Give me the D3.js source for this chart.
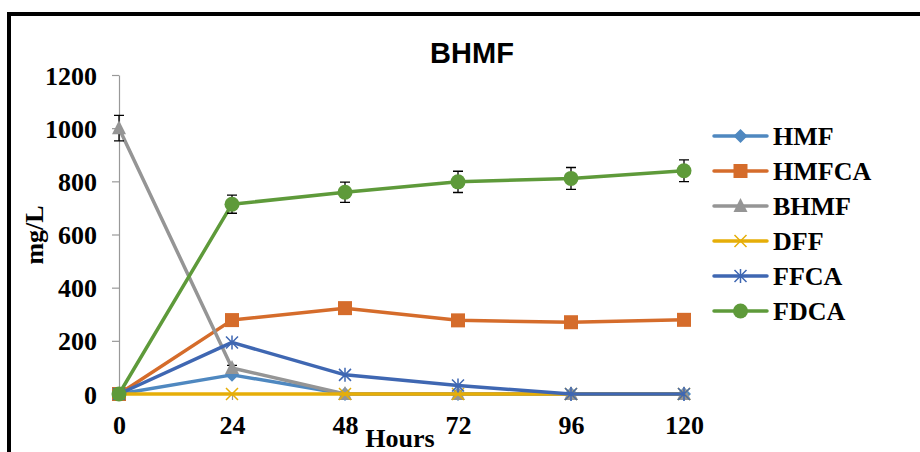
<!DOCTYPE html>
<html><head><meta charset="utf-8">
<script src="https://cdn.jsdelivr.net/npm/d3@7"></script>
<style>html,body{margin:0;padding:0;background:#fff;overflow:hidden}</style>
</head><body>
<svg id="c" width="920" height="452"></svg>
<script>
const hours = [0, 24, 48, 72, 96, 120];
const yTicks = [0, 200, 400, 600, 800, 1000, 1200];
const seriesNames = ["HMF", "HMFCA", "BHMF", "DFF", "FFCA", "FDCA"];
const hmf   = [0, 72, 0, 0, 0, 0];
const hmfca = [0, 278, 323, 277, 270, 279];
const bhmf  = [1000, 98, 0, 0, 0, 0];
const dff   = [0, 0, 0, 0, 0, 0];
const ffca  = [0, 194, 72, 32, 0, 0];
const fdca  = [0, 714, 759, 798, 811, 840];
const bhmfErr = [48, 10, 0, 0, 0, 0];
const fdcaErr = [0, 34, 38, 40, 41, 41];
const colors = ["#4F88C0", "#D56C2B", "#959595", "#E6AE08", "#3F67B2", "#5E9A3A"];
const markers = ["diamond", "square", "triangle", "x", "asterisk", "circle"];

const svg = d3.select("#c");
const x = d3.scaleLinear().domain([0, 120]).range([119, 684]);
const y = d3.scaleLinear().domain([0, 1200]).range([394, 75]);

// frame
svg.append("path").attr("d", "M9,470 L9,14 L940,14")
  .attr("fill", "none").attr("stroke", "#000").attr("stroke-width", 4);

// title
svg.append("text").attr("x", 472).attr("y", 63).attr("text-anchor", "middle")
  .attr("font-family", "Liberation Sans, Arial, sans-serif").attr("font-weight", "bold")
  .attr("font-size", 29).text("BHMF");

// y axis
const yAxis = d3.axisLeft(y).tickValues(yTicks).tickFormat(d3.format("d")).tickSize(7).tickSizeOuter(0).tickPadding(15);
const gy = svg.append("g").attr("transform", "translate(119,0)").call(yAxis);
gy.select(".domain").attr("stroke", "#999").attr("stroke-width", 1.2);
gy.selectAll(".tick line").attr("stroke", "#999").attr("stroke-width", 1.2);
gy.selectAll(".tick text").attr("font-family", "Liberation Serif, Times New Roman, serif")
  .attr("font-weight", "bold").attr("font-size", 26).attr("fill", "#000").attr("dy", "0.35em");

// x axis
const xAxis = d3.axisBottom(x).tickValues(hours).tickFormat(d3.format("d")).tickSize(6).tickSizeOuter(0).tickPadding(16);
const gx = svg.append("g").attr("transform", "translate(0,394)").call(xAxis);
gx.select(".domain").attr("stroke", "#999").attr("stroke-width", 1.2);
gx.selectAll(".tick line").attr("stroke", "#999").attr("stroke-width", 1.2);
gx.selectAll(".tick text").attr("font-family", "Liberation Serif, Times New Roman, serif")
  .attr("font-weight", "bold").attr("font-size", 26).attr("fill", "#000").attr("dy", "0.71em");

// axis titles
svg.append("text").attr("x", 400).attr("y", 447).attr("text-anchor", "middle")
  .attr("font-family", "Liberation Serif, Times New Roman, serif").attr("font-weight", "bold")
  .attr("font-size", 26).text("Hours");
svg.append("text").attr("transform", "translate(43,235) rotate(-90)").attr("text-anchor", "middle")
  .attr("font-family", "Liberation Serif, Times New Roman, serif").attr("font-weight", "bold")
  .attr("font-size", 26).text("mg/L");

function drawMarker(g, type, cx, cy, color) {
  if (type === "diamond") {
    g.append("path").attr("d", `M${cx},${cy-7} L${cx+7},${cy} L${cx},${cy+7} L${cx-7},${cy} Z`).attr("fill", color);
  } else if (type === "square") {
    g.append("rect").attr("x", cx-7).attr("y", cy-7).attr("width", 14).attr("height", 14).attr("fill", color);
  } else if (type === "triangle") {
    g.append("path").attr("d", `M${cx},${cy-8} L${cx+7},${cy+6} L${cx-7},${cy+6} Z`).attr("fill", color);
  } else if (type === "x") {
    g.append("path").attr("d", `M${cx-6},${cy-6} L${cx+6},${cy+6} M${cx+6},${cy-6} L${cx-6},${cy+6}`)
      .attr("stroke", color).attr("stroke-width", 1.5);
  } else if (type === "asterisk") {
    g.append("path").attr("d", `M${cx-6},${cy-6} L${cx+6},${cy+6} M${cx+6},${cy-6} L${cx-6},${cy+6} M${cx},${cy-7} L${cx},${cy+7}`)
      .attr("stroke", color).attr("stroke-width", 1.5);
  } else if (type === "circle") {
    g.append("circle").attr("cx", cx).attr("cy", cy).attr("r", 7.5).attr("fill", color);
  }
}

const data = [hmf, hmfca, bhmf, dff, ffca, fdca];
const errs = [null, null, bhmfErr, null, null, fdcaErr];
const line = d3.line().x((d, i) => x(hours[i])).y(d => y(d));

data.forEach((vals, si) => {
  const g = svg.append("g");
  g.append("path").attr("d", line(vals)).attr("fill", "none")
    .attr("stroke", colors[si]).attr("stroke-width", 3.5).attr("stroke-linejoin", "round");
  if (errs[si]) {
    vals.forEach((v, i) => {
      const e = errs[si][i];
      if (!e) return;
      const cx = x(hours[i]), y1 = y(v + e), y2 = y(v - e);
      g.append("path").attr("d", `M${cx},${y1} L${cx},${y2} M${cx-5},${y1} L${cx+5},${y1} M${cx-5},${y2} L${cx+5},${y2}`)
        .attr("stroke", "#000").attr("stroke-width", 1.3).attr("fill", "none");
    });
  }
  vals.forEach((v, i) => drawMarker(g, markers[si], x(hours[i]), y(v), colors[si]));
});

// legend
seriesNames.forEach((name, i) => {
  const ly = 136 + i * 35;
  const g = svg.append("g");
  g.append("line").attr("x1", 714).attr("x2", 767).attr("y1", ly).attr("y2", ly)
    .attr("stroke", colors[i]).attr("stroke-width", 3.5).attr("stroke-linecap", "round");
  drawMarker(g, markers[i], 740.5, ly, colors[i]);
  g.append("text").attr("x", 773).attr("y", ly).attr("dy", "0.35em")
    .attr("font-family", "Liberation Serif, Times New Roman, serif").attr("font-weight", "bold")
    .attr("font-size", 26).text(name);
});
</script>
</body></html>
